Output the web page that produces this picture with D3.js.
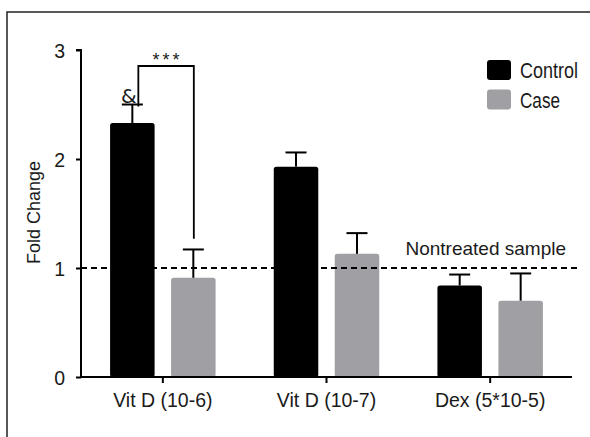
<!DOCTYPE html>
<html>
<head>
<meta charset="utf-8">
<script src="https://cdn.jsdelivr.net/npm/d3@7"></script>
<style>
  html, body { margin: 0; padding: 0; background: #fff; }
  svg { display: block; }
  text { font-family: "Liberation Sans", Arial, sans-serif; fill: #1a1a1a; }
</style>
</head>
<body>
<svg id="chart" width="590" height="437"></svg>
<script>
const categories = ["Vit D (10-6)", "Vit D (10-7)", "Dex (5*10-5)"];
const series = ["Control", "Case"];
const controlValues = [2.33, 1.93, 0.84];
const controlErrors = [0.17, 0.13, 0.10];
const caseValues = [0.91, 1.13, 0.70];
const caseErrors = [0.26, 0.19, 0.25];
const yTicks = [0, 1, 2, 3];
const referenceValue = 1;
const referenceLabel = "Nontreated sample";
const colors = { Control: "#000000", Case: "#a0a0a4" };

const data = categories.map((c, i) => ({
  category: c,
  values: [
    { series: "Control", value: controlValues[i], err: controlErrors[i] },
    { series: "Case", value: caseValues[i], err: caseErrors[i] }
  ]
}));

const svg = d3.select("#chart");

// outer frame
svg.append("path")
  .attr("d", "M7,437 L7,12 L590,12")
  .attr("fill", "none").attr("stroke", "#222").attr("stroke-width", 1.5);

const x = d3.scaleBand().domain(categories).range([81, 572]).padding(0);
const inner = d3.scaleBand().domain(series).range([-52.75, 52.75]).paddingInner(0.27);
const y = d3.scaleLinear().domain([0, 3]).range([377, 50]);

// bars
const groups = svg.append("g").selectAll("g").data(data).join("g")
  .attr("transform", d => `translate(${x(d.category) + x.bandwidth() / 2},0)`);

groups.selectAll("rect").data(d => d.values).join("rect")
  .attr("x", d => inner(d.series))
  .attr("width", inner.bandwidth())
  .attr("y", d => y(d.value))
  .attr("height", d => y(0) - y(d.value))
  .attr("rx", 2.5)
  .attr("fill", d => colors[d.series]);

// error bars
const eb = groups.selectAll("g.err").data(d => d.values).join("g").attr("class", "err");
eb.append("line")
  .attr("x1", d => inner(d.series) + inner.bandwidth() / 2)
  .attr("x2", d => inner(d.series) + inner.bandwidth() / 2)
  .attr("y1", d => y(d.value))
  .attr("y2", d => y(d.value + d.err))
  .attr("stroke", "#000").attr("stroke-width", 2);
eb.append("line")
  .attr("x1", d => inner(d.series) + inner.bandwidth() / 2 - 10.5)
  .attr("x2", d => inner(d.series) + inner.bandwidth() / 2 + 10.5)
  .attr("y1", d => y(d.value + d.err))
  .attr("y2", d => y(d.value + d.err))
  .attr("stroke", "#000").attr("stroke-width", 2);

// reference dashed line
svg.append("line")
  .attr("x1", 81).attr("x2", 578)
  .attr("y1", y(referenceValue)).attr("y2", y(referenceValue))
  .attr("stroke", "#000").attr("stroke-width", 2)
  .attr("stroke-dasharray", "6,4");
svg.append("text")
  .attr("x", 566).attr("y", y(referenceValue) - 13)
  .attr("text-anchor", "end")
  .style("font-size", "19px")
  .text(referenceLabel);

// axes
const yAxis = d3.axisLeft(y).tickValues(yTicks).tickFormat(d3.format("d")).tickSize(5).tickPadding(11);
const gy = svg.append("g").attr("transform", "translate(81,0)").call(yAxis);
gy.select(".domain").attr("stroke", "#000").attr("stroke-width", 2).attr("d", `M-5,${y(3)}H0V${y(0)}`);
gy.selectAll(".tick line").attr("stroke", "#000").attr("stroke-width", 2);
gy.selectAll(".tick text").style("font-size", "19.5px").attr("fill", "#1a1a1a").attr("font-family", null)
  .attr("dy", "0.36em");

const xAxis = d3.axisBottom(x).tickSize(6).tickPadding(12);
const gx = svg.append("g").attr("transform", `translate(0,${y(0)})`).call(xAxis);
gx.select(".domain").attr("stroke", "#000").attr("stroke-width", 2).attr("d", "M80,0H572");
gx.selectAll(".tick line").attr("stroke", "#000").attr("stroke-width", 2);
gx.selectAll(".tick text").style("font-size", "19.5px").attr("fill", "#1a1a1a").attr("font-family", null)
  .attr("dy", "0.62em");

// y axis title
svg.append("text")
  .attr("transform", `translate(40,${(y(0) + y(3)) / 2 - 1}) rotate(-90)`)
  .attr("text-anchor", "middle")
  .style("font-size", "18px")
  .text("Fold Change");

// significance bracket
const c0 = x(categories[0]) + x.bandwidth() / 2;
const leftX = c0 + inner("Control") + inner.bandwidth() / 2 + 6;
const rightX = c0 + inner("Case") + inner.bandwidth() / 2 + 0.5;
svg.append("path")
  .attr("d", `M${leftX},${y(controlValues[0] + controlErrors[0]) + 2}V66H${rightX}V${y(caseValues[0]) - 39}`)
  .attr("fill", "none").attr("stroke", "#000").attr("stroke-width", 1.8);
svg.append("text")
  .attr("x", (leftX + rightX) / 2 + 1.5).attr("y", 66)
  .attr("text-anchor", "middle")
  .style("font-size", "18px").style("letter-spacing", "3px")
  .text("***");
svg.append("text")
  .attr("x", c0 + inner("Control") + inner.bandwidth() / 2 - 3.5).attr("y", 103)
  .attr("text-anchor", "middle")
  .style("font-family", "'DejaVu Sans', sans-serif")
  .style("font-size", "20px")
  .text("&");

// legend
const legendWidths = { Control: 58, Case: 40 };
const legend = svg.append("g").selectAll("g").data(series).join("g")
  .attr("transform", (d, i) => `translate(487,${60 + i * 29.5})`);
legend.append("rect")
  .attr("width", 24).attr("height", 20).attr("rx", 3)
  .attr("fill", d => colors[d]);
legend.append("text")
  .attr("x", 33).attr("y", 18)
  .style("font-size", "21.5px")
  .attr("textLength", d => legendWidths[d])
  .attr("lengthAdjust", "spacingAndGlyphs")
  .text(d => d);
</script>
</body>
</html>
